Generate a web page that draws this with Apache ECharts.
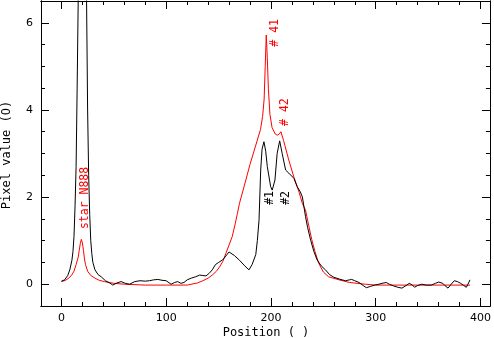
<!DOCTYPE html>
<html>
<head>
<meta charset="utf-8">
<script src="https://cdn.jsdelivr.net/npm/echarts@6/dist/echarts.min.js"></script>
<style>
  html, body { margin: 0; padding: 0; background: #fff; }
  #chart { width: 494px; height: 338px; }
</style>
</head>
<body>
<div id="chart"></div>
<script>
// black profile (star N888 field, #1 / #2)
var blackX = [0, 3, 6, 8, 10, 11, 12, 13, 14, 15, 16, 17, 18, 19, 20, 21, 22, 23, 24, 25, 26, 27, 28, 29, 30, 32, 35, 38, 42, 46, 49, 53, 57, 61, 65, 70, 75, 80, 84, 88, 92, 96, 100, 104.7, 108, 111, 114, 117, 120, 124, 128, 132, 135, 138, 141, 144, 147, 150, 154, 157, 160, 161, 165, 170, 175, 179, 182, 185.5, 187, 188.6, 190.2, 191.5, 193.3, 195, 196.5, 199.7, 201.2, 203.8, 205.9, 208.3, 210.7, 214, 217, 221.9, 225, 228, 230, 233, 235, 238, 241, 244, 248, 252, 256, 260, 265, 271, 275, 277, 280, 284, 288, 291, 295, 299, 303, 306, 310, 313, 317, 321, 325, 329, 332, 335, 337, 340, 344, 348, 353, 357, 360, 364, 366, 369, 372, 375, 378, 381, 384, 386.5, 388, 390]
var blackY = [0.07, 0.1, 0.2, 0.33, 0.55, 0.75, 1.1, 1.8, 2.7, 4.5, 6.5, 10, 14, 17, 18, 17, 14, 10, 6.5, 4, 2.5, 1.6, 1.0, 0.7, 0.5, 0.33, 0.22, 0.17, 0.08, 0.03, -0.02, 0.03, 0.06, 0.02, 0.0, 0.06, 0.08, 0.07, 0.08, 0.1, 0.11, 0.09, 0.08, 0.0, 0.04, 0.06, 0.02, 0.04, 0.1, 0.14, 0.17, 0.21, 0.2, 0.19, 0.25, 0.33, 0.45, 0.5, 0.56, 0.65, 0.74, 0.75, 0.66, 0.55, 0.42, 0.33, 0.45, 0.68, 1.0, 1.47, 2.62, 3.1, 3.27, 3.05, 2.7, 2.24, 2.16, 2.39, 3.0, 3.29, 3.0, 2.62, 2.55, 2.43, 2.24, 2.12, 2.0, 1.55, 1.3, 1.0, 0.75, 0.56, 0.42, 0.33, 0.22, 0.16, 0.12, 0.08, 0.1, 0.11, 0.08, 0.04, -0.03, -0.08, -0.05, -0.02, 0.0, 0.02, 0.04, 0.0, -0.04, -0.07, -0.09, -0.03, 0.02, -0.02, -0.07, -0.03, 0.0, -0.02, -0.02, 0.02, 0.05, 0.02, -0.03, -0.09, 0.0, 0.08, 0.06, 0.02, -0.03, -0.07, 0.0, 0.1]

// red profile (#41 / #42)
var redX = [0, 4, 8, 10, 12, 14, 16, 17, 18, 19, 20, 21, 22, 23, 25, 28, 32, 36, 41, 50, 60, 80, 100, 120, 130, 135, 140, 144, 148, 151, 154, 157, 160, 163, 166, 168, 170, 175, 180, 185, 190, 192, 193.5, 194.5, 195.5, 196.5, 197.5, 199, 201, 204, 206, 208, 209.5, 212, 217, 222, 227, 230, 233, 236, 239, 242, 245.6, 250, 255, 265, 275, 290, 300, 340, 390]
var redY = [0.06, 0.09, 0.16, 0.22, 0.3, 0.45, 0.62, 0.78, 0.93, 1.03, 0.95, 0.78, 0.58, 0.45, 0.3, 0.2, 0.14, 0.09, 0.06, 0.02, 0.0, -0.02, -0.02, -0.02, 0.03, 0.08, 0.14, 0.21, 0.3, 0.4, 0.52, 0.71, 0.9, 1.09, 1.4, 1.63, 1.86, 2.3, 2.75, 3.15, 3.55, 3.85, 4.25, 5.0, 5.72, 5.2, 4.5, 3.9, 3.6, 3.45, 3.42, 3.45, 3.5, 3.3, 2.85, 2.45, 2.1, 1.85, 1.7, 1.35, 1.02, 0.75, 0.48, 0.28, 0.17, 0.1, 0.04, 0.0, -0.02, -0.02, -0.02]

// annotations
var redLabels = ['star N888', '# 41', '# 42']
var redLabelX = [22.3, 203.6, 213.6]
var redLabelY = [1.98, 5.77, 3.95]
var blackLabels = ['#1', '#2']
var blackLabelX = [199.4, 214.2]
var blackLabelY = [1.98, 1.98]

// ticks
var xMajor = [0, 100, 200, 300, 400]
var xMinor = [20, 40, 60, 80, 120, 140, 160, 180, 220, 240, 260, 280, 320, 340, 360, 380]
var yMajor = [0, 2, 4, 6]
var yMinor = [-0.5, 0.5, 1, 1.5, 2.5, 3, 3.5, 4.5, 5, 5.5, 6.5]

var font = 'DejaVu Sans'
var mono = 'DejaVu Sans Mono'

function pairs(xs, ys) {
  return xs.map(function (x, i) { return [x, ys[i]] })
}

function marks(names, xs, ys, color) {
  return names.map(function (n, i) {
    return {
      name: n,
      coord: [xs[i], ys[i]],
      symbol: 'circle',
      symbolSize: 1,
      itemStyle: { color: 'rgba(0,0,0,0)' },
      label: {
        show: true,
        formatter: n,
        rotate: 90,
        position: 'inside',
        align: 'center',
        verticalAlign: 'middle',
        color: color,
        fontFamily: mono,
        fontSize: 11.5
      }
    }
  })
}

function xAx(pos, ticks, len, labels) {
  return {
    type: 'value',
    position: pos,
    min: -19.5,
    max: 409,
    axisLine: { show: true, onZero: false, lineStyle: { color: '#000', width: 1 } },
    axisTick: { show: true, inside: true, length: len, customValues: ticks, lineStyle: { color: '#000' } },
    axisLabel: labels ? { show: true, customValues: xMajor, margin: 7, color: '#000', fontFamily: font, fontSize: 11 } : { show: false },
    splitLine: { show: false }
  }
}

function yAx(pos, ticks, len, labels) {
  return {
    type: 'value',
    position: pos,
    min: -0.5,
    max: 6.5,
    axisLine: { show: true, onZero: false, lineStyle: { color: '#000', width: 1 } },
    axisTick: { show: true, inside: true, length: len, customValues: ticks, lineStyle: { color: '#000' } },
    axisLabel: labels ? { show: true, customValues: yMajor, margin: 8, color: '#000', fontFamily: font, fontSize: 11 } : { show: false },
    splitLine: { show: false }
  }
}

var chart = echarts.init(document.getElementById('chart'))
chart.setOption({
  animation: false,
  backgroundColor: '#fff',
  grid: { left: 41, right: 2, top: 1, bottom: 32, containLabel: false },
  xAxis: [
    xAx('bottom', xMajor, 8, true),
    xAx('bottom', xMinor, 4, false),
    xAx('top', xMajor, 8, false),
    xAx('top', xMinor, 4, false)
  ],
  yAxis: [
    yAx('left', yMajor, 8, true),
    yAx('left', yMinor, 4, false),
    yAx('right', yMajor, 8, false),
    yAx('right', yMinor, 4, false)
  ],
  graphic: [
    {
      type: 'text', x: 266, y: 333,
      style: { text: 'Position ( )', align: 'center', verticalAlign: 'middle', fill: '#000', font: '12px "' + mono + '"' }
    },
    {
      type: 'text', x: 7, y: 155, rotation: Math.PI / 2,
      style: { text: 'Pixel value (O)', align: 'center', verticalAlign: 'middle', fill: '#000', font: '12px "' + mono + '"' }
    }
  ],
  series: [
    {
      type: 'line',
      data: pairs(redX, redY),
      symbol: 'none',
      clip: true,
      lineStyle: { color: '#ff0000', width: 1 },
      markPoint: { silent: true, data: marks(redLabels, redLabelX, redLabelY, '#ff0000') }
    },
    {
      type: 'line',
      data: pairs(blackX, blackY),
      symbol: 'none',
      clip: true,
      lineStyle: { color: '#000', width: 1 },
      markPoint: { silent: true, data: marks(blackLabels, blackLabelX, blackLabelY, '#000') }
    }
  ]
})
</script>
</body>
</html>
